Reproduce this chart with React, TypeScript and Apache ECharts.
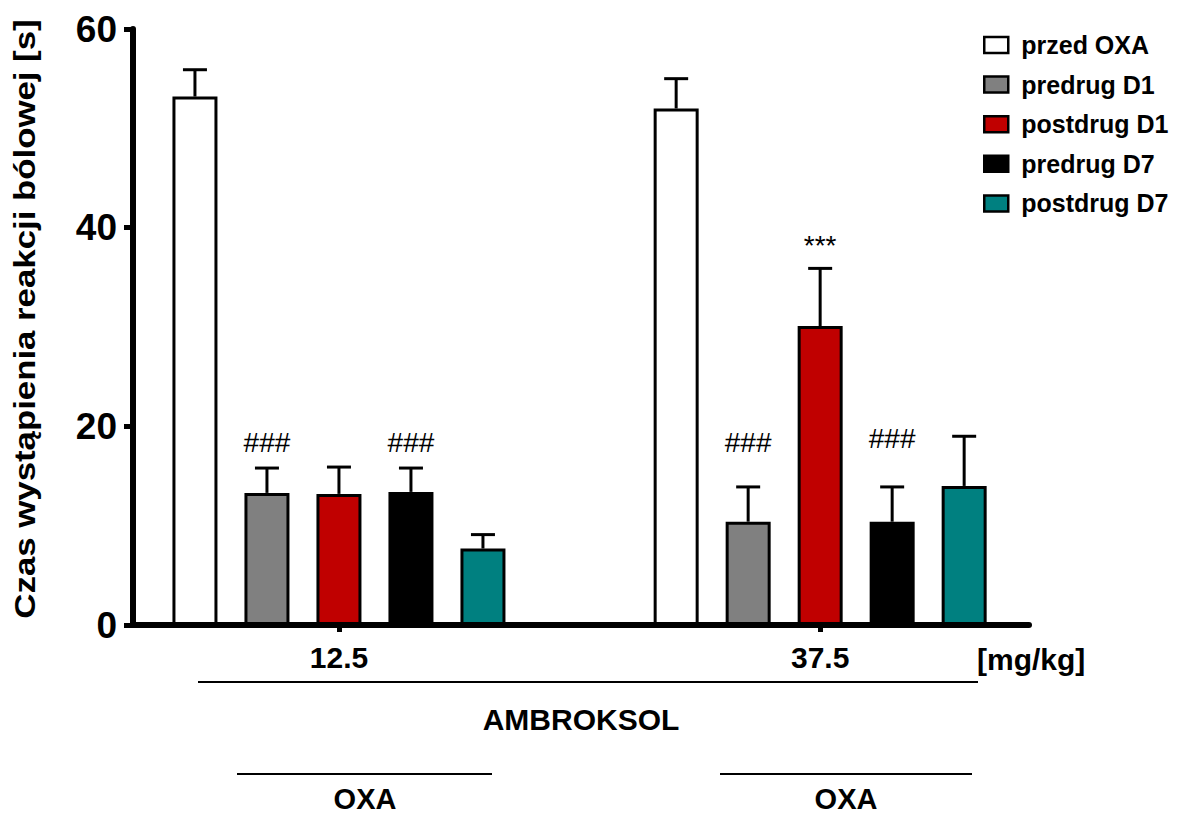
import React, { useEffect, useRef } from "react";
import * as echarts from "echarts";

// ---- data ----
const doseLabels = ["12.5", "37.5"];
const doses = [12.5, 37.5];
const seriesNames = ["przed OXA", "predrug D1", "postdrug D1", "predrug D7", "postdrug D7"];
const seriesColors = ["#ffffff", "#808080", "#c00000", "#000000", "#008080"];

const przedOXA = [53.2, 52.0];
const przedOXAErr = [2.7, 3.0];
const predrugD1 = [13.3, 10.4];
const predrugD1Err = [2.5, 3.5];
const postdrugD1 = [13.2, 30.1];
const postdrugD1Err = [2.7, 5.8];
const predrugD7 = [13.4, 10.4];
const predrugD7Err = [2.4, 3.5];
const postdrugD7 = [7.7, 14.0];
const postdrugD7Err = [1.4, 5.0];

const means = [przedOXA, predrugD1, postdrugD1, predrugD7, postdrugD7];
const errors = [przedOXAErr, predrugD1Err, postdrugD1Err, predrugD7Err, postdrugD7Err];

// significance marks: [seriesIndex, groupIndex, text, level (axis units)]
const marks: [number, number, string, number][] = [
  [1, 0, "###", 18.4],
  [3, 0, "###", 18.4],
  [1, 1, "###", 18.4],
  [2, 1, "***", 38.2],
  [3, 1, "###", 18.8],
];

const yTicks = [0, 20, 40, 60];

const FONT = "Liberation Sans, Arial, sans-serif";
const BAR_W = 45;
const BAR_GAP = 27;

export default function App() {
  const ref = useRef<HTMLDivElement>(null);
  useEffect(() => {
    if (!ref.current) return;
    const chart = echarts.init(ref.current, undefined, { renderer: "svg" });

    const barSeries = seriesNames.map((name, i) => ({
      name,
      type: "bar",
      barWidth: BAR_W,
      barGap: ((BAR_GAP / BAR_W) * 100).toFixed(2) + "%",
      itemStyle: { color: seriesColors[i], borderColor: "#000", borderWidth: 3 },
      data: doses.map((d, g) => [d, means[i][g]]),
      z: 2,
    }));

    const errData: number[][] = [];
    means.forEach((arr, i) => arr.forEach((m, g) => errData.push([doses[g], m, errors[i][g], i])));

    const markData: any[] = marks.map(([si, gi, text, level]) => ({ value: [doses[gi], level, si], text }));

    const offsetOf = (si: number) => (si - 2) * (BAR_W + BAR_GAP);

    const option: any = {
      animation: false,
      backgroundColor: "#ffffff",
      textStyle: { fontFamily: FONT },
      grid: { left: 133, right: 162, top: 29, bottom: 190, containLabel: false },
      legend: {
        orient: "vertical",
        left: 978,
        top: 27,
        data: seriesNames,
        icon: "rect",
        itemWidth: 24,
        itemHeight: 16,
        itemGap: 13.6,
        itemStyle: { borderColor: "#000", borderWidth: 2.5 },
        textStyle: { fontFamily: FONT, fontWeight: "bold", fontSize: 25, lineHeight: 26, color: "#000", padding: [0, 0, 0, 8] },
      },
      xAxis: {
        type: "value",
        min: 1.8,
        max: 48.35,
        splitLine: { show: false },
        axisLine: { show: true, onZero: false, lineStyle: { color: "#000", width: 6 } },
        axisTick: { show: true, customValues: doses, length: 7, lineStyle: { color: "#000", width: 5 } },
        axisLabel: {
          customValues: doses,
          formatter: (v: number) => doseLabels[doses.indexOf(v)] ?? "",
          fontFamily: FONT,
          fontWeight: "bold",
          fontSize: 30,
          color: "#000",
          margin: 17,
        },
      },
      yAxis: {
        type: "value",
        min: 0,
        max: 60,
        interval: 20,
        splitLine: { show: false },
        axisLine: { show: true, lineStyle: { color: "#000", width: 6 } },
        axisTick: { show: true, customValues: yTicks, length: 9, lineStyle: { color: "#000", width: 5 } },
        axisLabel: { fontFamily: FONT, fontWeight: "bold", fontSize: 37, color: "#000", margin: 16 },
      },
      series: [
        ...barSeries,
        {
          type: "custom",
          name: "err",
          data: errData,
          z: 3,
          silent: true,
          renderItem: (params: any, api: any) => {
            const x = api.value(0);
            const m = api.value(1);
            const e = api.value(2);
            const si = api.value(3);
            const base = api.coord([x, m]);
            const top = api.coord([x, m + e]);
            const px = base[0] + offsetOf(si);
            const ls = { stroke: "#000", lineWidth: 3 };
            return {
              type: "group",
              children: [
                { type: "line", shape: { x1: px, y1: base[1], x2: px, y2: top[1] }, style: ls },
                { type: "line", shape: { x1: px - 12, y1: top[1], x2: px + 12, y2: top[1] }, style: ls },
              ],
            };
          },
        },
        {
          type: "custom",
          name: "marks",
          data: markData,
          z: 4,
          silent: true,
          renderItem: (params: any, api: any) => {
            const x = api.value(0);
            const lv = api.value(1);
            const si = api.value(2);
            const p = api.coord([x, lv]);
            return {
              type: "text",
              x: p[0] + offsetOf(si),
              y: p[1],
              style: {
                text: markData[params.dataIndex].text,
                fontFamily: FONT,
                fontSize: 28,
                fill: "#000",
                align: "center",
                verticalAlign: "middle",
              },
            };
          },
        },
      ],
      graphic: [
        {
          type: "text",
          x: 25,
          y: 319,
          rotation: Math.PI / 2,
          scaleX: 1.2,
          style: {
            text: "Czas wystąpienia reakcji bólowej [s]",
            fontFamily: FONT,
            fontWeight: "bold",
            fontSize: 29,
            fill: "#000",
            align: "center",
            verticalAlign: "middle",
          },
        },
        {
          type: "text",
          x: 977,
          y: 659,
          style: { text: "[mg/kg]", fontFamily: FONT, fontWeight: "bold", fontSize: 30, fill: "#000", align: "left", verticalAlign: "middle" },
        },
        { type: "line", shape: { x1: 198, y1: 682, x2: 978, y2: 682 }, style: { stroke: "#000", lineWidth: 2 } },
        {
          type: "text",
          x: 581,
          y: 719,
          style: { text: "AMBROKSOL", fontFamily: FONT, fontWeight: "bold", fontSize: 30, fill: "#000", align: "center", verticalAlign: "middle" },
        },
        { type: "line", shape: { x1: 237, y1: 774, x2: 492, y2: 774 }, style: { stroke: "#000", lineWidth: 2 } },
        { type: "line", shape: { x1: 720, y1: 774, x2: 972, y2: 774 }, style: { stroke: "#000", lineWidth: 2 } },
        {
          type: "text",
          x: 365,
          y: 799,
          style: { text: "OXA", fontFamily: FONT, fontWeight: "bold", fontSize: 29, lineHeight: 26, fill: "#000", align: "center", verticalAlign: "middle" },
        },
        {
          type: "text",
          x: 846,
          y: 799,
          style: { text: "OXA", fontFamily: FONT, fontWeight: "bold", fontSize: 29, lineHeight: 26, fill: "#000", align: "center", verticalAlign: "middle" },
        },
      ],
    };
    chart.setOption(option);
    return () => chart.dispose();
  }, []);
  return <div ref={ref} style={{ position: "absolute", left: 0, top: 0, width: 1191, height: 815 }} />;
}
